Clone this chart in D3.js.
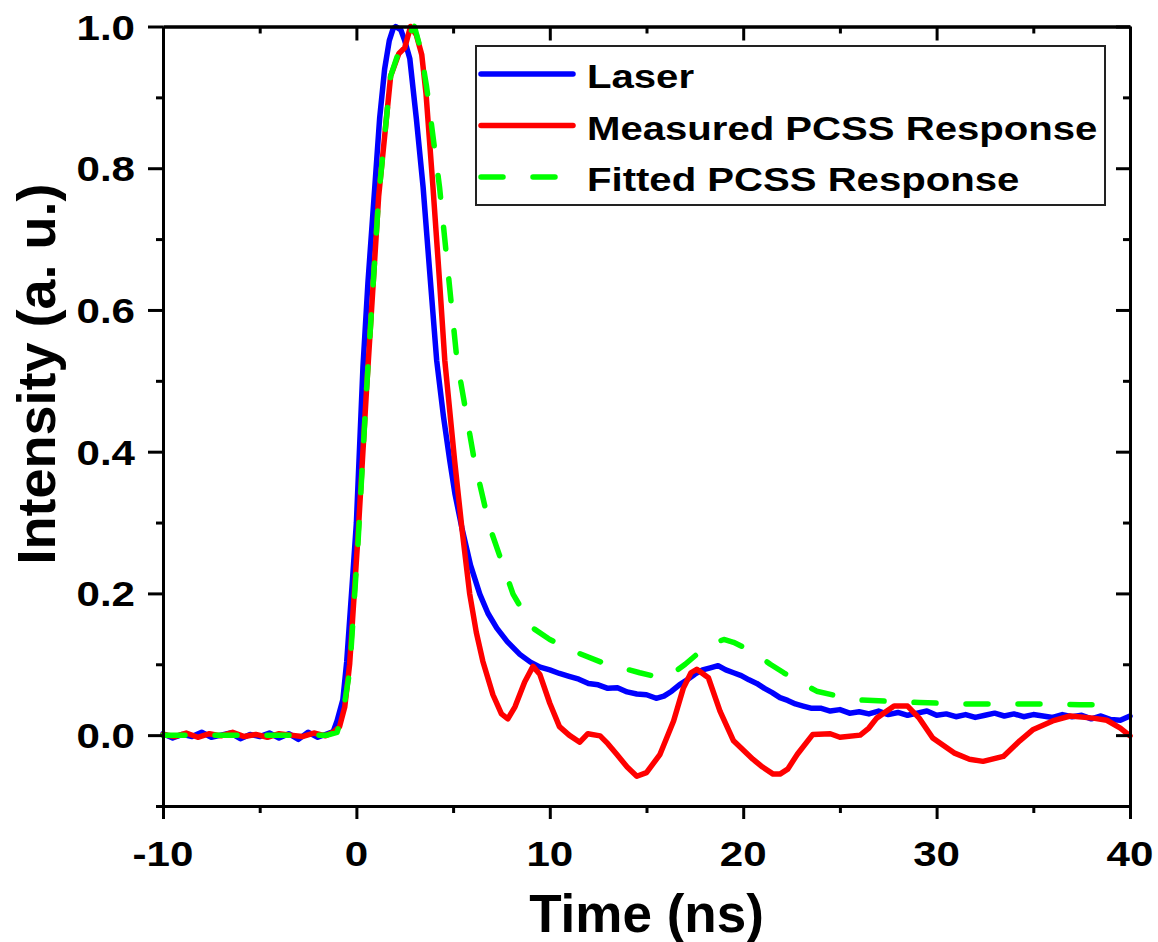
<!DOCTYPE html>
<html>
<head>
<meta charset="utf-8">
<script src="https://cdn.jsdelivr.net/npm/d3@7"></script>
<style>
  body { margin: 0; background: #fff; }
  text { font-family: "Liberation Sans", Arial, sans-serif; font-weight: bold; fill: #000; }
</style>
</head>
<body>
<div id="chart"></div>
<script>
// data (time in ns, intensity in a.u.)
const laserTime = [-10, -9.5, -9, -8.5, -8, -7.5, -7, -6.5, -6, -5.5, -5, -4.5, -4, -3.5, -3, -2.5, -2, -1.5, -1.2, -1.0, -0.7, -0.5, -0.2, 0, 0.34, 0.6, 0.95, 1.2, 1.46, 1.7, 1.9, 2.03, 2.3, 2.5, 2.76, 3.1, 3.45, 3.8, 4.15, 4.5, 4.83, 5.1, 5.45, 5.9, 6.38, 6.8, 7.26, 7.8, 8.45,
    9.0, 9.5, 10.0, 10.5, 11.0, 11.5, 12.0, 12.5, 13.0, 13.5, 14.0, 14.5, 15.0, 15.5, 15.9, 16.3, 16.7, 17.1, 17.5, 17.9, 18.3, 18.7, 19.1, 19.5, 19.9, 20.3, 20.7, 21.1, 21.5, 21.9, 22.3, 22.7, 23.1, 23.5, 24.0, 24.5, 25.0, 25.5, 26.0, 26.5, 27.0, 27.5, 28.0, 28.5, 29.0, 29.5, 30.0, 30.5, 31.0, 31.5, 32.0, 32.5, 33.0, 33.5, 34.0, 34.5, 35.0, 35.5, 36.0, 36.5, 37.0, 37.5, 38.0, 38.5, 39.0, 39.5, 40];
const laserIntensity = [0.002, -0.004, 0.001, -0.002, 0.004, -0.003, 0.000, 0.003, -0.005, 0.001, -0.002, 0.003, -0.004, 0.002, -0.006, 0.004, -0.003, 0.002, 0.005, 0.02, 0.05, 0.104, 0.22, 0.3, 0.52, 0.64, 0.773, 0.87, 0.94, 0.98, 0.997, 1.0, 0.995, 0.98, 0.955, 0.87, 0.773, 0.65, 0.529, 0.45, 0.387, 0.34, 0.293, 0.24, 0.199, 0.172, 0.151, 0.132, 0.114,
    0.103, 0.096, 0.092, 0.087, 0.083, 0.079, 0.073, 0.071, 0.066, 0.067, 0.061, 0.058, 0.057, 0.052, 0.055, 0.062, 0.071, 0.078, 0.086, 0.092, 0.095, 0.098, 0.092, 0.088, 0.084, 0.078, 0.073, 0.066, 0.060, 0.053, 0.049, 0.044, 0.041, 0.038, 0.038, 0.034, 0.036, 0.031, 0.033, 0.030, 0.034, 0.029, 0.032, 0.028, 0.031, 0.034, 0.028, 0.030, 0.026, 0.029, 0.025, 0.028, 0.031, 0.027, 0.030, 0.026, 0.029, 0.027, 0.025, 0.029, 0.026, 0.028, 0.023, 0.027, 0.022, 0.021, 0.027];

const measuredTime = [-10, -9.4, -8.8, -8.2, -7.6, -7, -6.4, -5.8, -5.2, -4.6, -4, -3.4, -2.8, -2.2, -1.6, -1.2, -0.87, -0.6, -0.35, 0.08, 0.53, 1.15, 1.77, 2.2, 2.5, 2.8, 3.1, 3.38, 3.6, 3.96, 4.3, 4.57, 5.08, 5.45, 5.86, 6.2, 6.54, 7.06, 7.5, 7.83, 8.2, 8.7, 9.13, 9.48, 10.0, 10.5, 11.0, 11.55, 11.97, 12.6, 13.0, 13.46, 14.0, 14.5, 15.0, 15.7, 16.4, 16.9, 17.3, 17.6, 18.2, 18.8, 19.5, 20.5, 21.0, 21.55, 21.9, 22.3, 22.8, 23.6, 24.5, 25.0, 26.05, 26.5, 26.9, 27.8, 28.5, 29.1, 29.8, 30.9, 31.7, 32.4, 33.45, 34.3, 35.0, 36.0, 36.9, 38.1, 38.8, 39.5, 40];
const measuredIntensity = [0.001, -0.002, 0.003, -0.003, 0.002, -0.001, 0.004, -0.002, 0.001, -0.003, 0.002, 0.000, -0.002, 0.003, -0.001, 0.004, 0.012, 0.04, 0.1, 0.28, 0.49, 0.76, 0.93, 0.962, 0.97, 1.0, 0.988, 0.96, 0.905, 0.773, 0.64, 0.529, 0.387, 0.293, 0.199, 0.145, 0.104, 0.057, 0.03, 0.023, 0.04, 0.075, 0.097, 0.086, 0.045, 0.012, 0.0, -0.01, 0.002, -0.001, -0.012, -0.027, -0.045, -0.058, -0.053, -0.027, 0.02, 0.066, 0.088, 0.093, 0.081, 0.034, -0.008, -0.034, -0.045, -0.055, -0.055, -0.048, -0.027, 0.001, 0.002, -0.003, 0.0, 0.01, 0.024, 0.041, 0.041, 0.024, -0.004, -0.025, -0.034, -0.037, -0.03, -0.008, 0.008, 0.02, 0.027, 0.024, 0.021, 0.01, -0.001];

const fittedTime = [-10, -1.5, -1.0, -0.7, -0.35, 0.08, 0.53, 1.15, 1.77, 2.2, 2.6, 3.0, 3.3, 3.63, 4.3, 5.2, 6.1, 6.9, 8.1, 9.13, 10.0, 11.0, 12.75, 14.65, 15.7, 16.4, 17.0, 17.6, 18.3, 19.0, 19.5, 20.1, 20.7, 21.4, 22.1, 23.0, 23.8, 25.7, 27.4, 29.1, 31.4, 33.45, 35.7, 37.4, 38.6, 39.1];
const fittedIntensity = [0.0, 0.0, 0.004, 0.03, 0.09, 0.27, 0.49, 0.76, 0.93, 0.965, 0.985, 1.0, 0.97, 0.915, 0.773, 0.529, 0.387, 0.293, 0.199, 0.151, 0.135, 0.121, 0.102, 0.088, 0.081, 0.088, 0.1, 0.114, 0.128, 0.135, 0.131, 0.123, 0.114, 0.1, 0.088, 0.074, 0.062, 0.05, 0.048, 0.046, 0.044, 0.044, 0.044, 0.043, 0.043, 0.038];

const seriesNames = ["Laser", "Measured PCSS Response", "Fitted PCSS Response"];
const seriesColors = ["#0000ff", "#ff0000", "#00ff00"];
const xTicks = [-10, 0, 10, 20, 30, 40];
const xMinor = [-5, 5, 15, 25, 35];
const yTicks = [0.0, 0.2, 0.4, 0.6, 0.8, 1.0];
const yMinor = [-0.1, 0.1, 0.3, 0.5, 0.7, 0.9];

const margin = {top: 26.5, right: 28, bottom: 136, left: 163},
      width = 1158 - margin.left - margin.right,
      height = 942 - margin.top - margin.bottom;
const SX = 1.17; // tick and legend glyphs look a bit wide in the original

const svg = d3.select("#chart").append("svg")
    .attr("width", 1158)
    .attr("height", 942)
    .append("g")
    .attr("transform", `translate(${margin.left},${margin.top})`);

const x = d3.scaleLinear().domain([-10, 40]).range([0, width]);
const y = d3.scaleLinear().domain([-0.1, 1.0]).range([height, 0]);

function stretchText(parent, px, py, str, size, anchor, sx, rot) {
    return parent.append("text")
        .attr("transform", `translate(${px},${py})${rot ? " rotate(" + rot + ")" : ""} scale(${sx},1)`)
        .attr("text-anchor", anchor)
        .style("font-size", size + "px")
        .text(str);
}

// curves
const line = d3.line().x(d => x(d[0])).y(d => y(d[1]));
const series = [
    d3.zip(laserTime, laserIntensity),
    d3.zip(measuredTime, measuredIntensity),
    d3.zip(fittedTime, fittedIntensity)
];
const plot = svg.append("g");
series.forEach((s, i) => {
    plot.append("path")
        .datum(s)
        .attr("d", line)
        .attr("fill", "none")
        .attr("stroke", seriesColors[i])
        .attr("stroke-width", 5.5)
        .attr("stroke-linejoin", "round")
        .attr("stroke-linecap", "round")
        .attr("stroke-dasharray", i === 2 ? "22,30" : null);
});

// axes: outward ticks bottom/left, inward ticks top/right
function styleAxis(g) {
    g.selectAll("path, line").attr("stroke", "#000").attr("stroke-width", 3);
    g.selectAll("text").remove();
}
svg.append("g").attr("transform", `translate(0,${height})`)
    .call(d3.axisBottom(x).tickValues(xTicks).tickSize(13).tickSizeOuter(0)).call(styleAxis);
svg.append("g").attr("transform", `translate(0,${height})`)
    .call(d3.axisBottom(x).tickValues(xMinor).tickSize(7).tickSizeOuter(0)).call(styleAxis);
svg.append("g")
    .call(d3.axisBottom(x).tickValues(xTicks).tickSize(14).tickSizeOuter(0)).call(styleAxis);
svg.append("g")
    .call(d3.axisBottom(x).tickValues(xMinor).tickSize(7).tickSizeOuter(0)).call(styleAxis);
svg.append("g")
    .call(d3.axisLeft(y).tickValues(yTicks).tickSize(15).tickSizeOuter(0)).call(styleAxis);
svg.append("g")
    .call(d3.axisLeft(y).tickValues(yMinor).tickSize(7).tickSizeOuter(0)).call(styleAxis);
svg.append("g").attr("transform", `translate(${width},0)`)
    .call(d3.axisLeft(y).tickValues(yTicks).tickSize(14).tickSizeOuter(0)).call(styleAxis);
svg.append("g").attr("transform", `translate(${width},0)`)
    .call(d3.axisLeft(y).tickValues(yMinor).tickSize(7).tickSizeOuter(0)).call(styleAxis);

// tick labels
xTicks.forEach(t => stretchText(svg, x(t), height + 60, String(t), 36, "middle", SX));
yTicks.forEach(v => stretchText(svg, -28, y(v) + 13, v.toFixed(1), 36, "end", SX));

// axis titles
stretchText(svg, width / 2, height + 126, "Time (ns)", 53, "middle", 1);
stretchText(svg, -108, 374 - margin.top, "Intensity (a. u.)", 54, "middle", 1, -90);

// legend
const legend = svg.append("g").attr("transform", "translate(313,19.5)");
legend.append("rect")
    .attr("width", 629)
    .attr("height", 159)
    .attr("fill", "#fff")
    .attr("stroke", "#222")
    .attr("stroke-width", 2);
seriesNames.forEach((name, i) => {
    const ly = 28 + i * 51.5;
    legend.append("line")
        .attr("x1", 5).attr("x2", 97)
        .attr("y1", ly).attr("y2", ly)
        .attr("stroke", seriesColors[i])
        .attr("stroke-width", 5.5)
        .attr("stroke-linecap", "round")
        .attr("stroke-dasharray", i === 2 ? "22,30" : null);
    stretchText(legend, 111, ly + 14, name, 34, "start", 1.18);
});
</script>
</body>
</html>
